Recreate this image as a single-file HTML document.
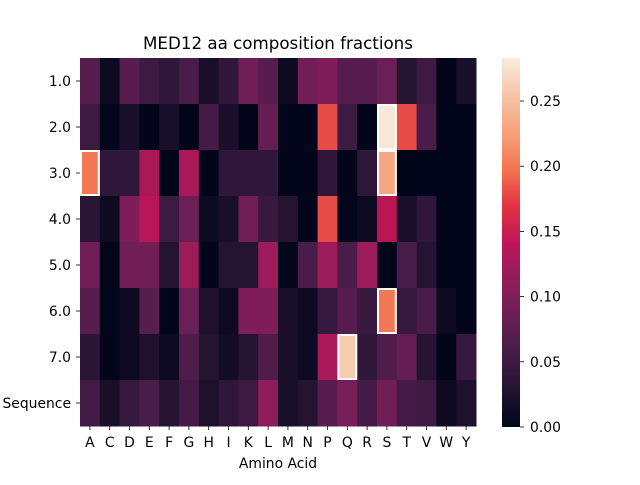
<!DOCTYPE html>
<html><head><meta charset="utf-8"><style>
body{margin:0;background:#fff;font-family:"Liberation Sans","DejaVu Sans",sans-serif;}
svg text{font-family:"DejaVu Sans","Liberation Sans",sans-serif;}
</style></head><body>
<svg id="chart" width="640" height="480" viewBox="0 0 640 480" xmlns="http://www.w3.org/2000/svg">
<rect width="640" height="480" fill="#fff"/>
<text x="278" y="49" font-size="16.7" text-anchor="middle">MED12 aa composition fractions</text>
<g id="cells"></g>
<g id="axes"></g>
<text x="278" y="468" font-size="13.9" text-anchor="middle">Amino Acid</text>
<defs><linearGradient id="cbg" x1="0" y1="1" x2="0" y2="0"></linearGradient></defs>
<rect x="502" y="58" width="18" height="369" fill="url(#cbg)"/>
<g id="cbticks"></g>
</svg>
<script>
const columns=["A","C","D","E","F","G","H","I","K","L","M","N","P","Q","R","S","T","V","W","Y"];
const rowLabels=["1.0","2.0","3.0","4.0","5.0","6.0","7.0","Sequence"];
const row1=[0.07,0.01,0.07,0.05,0.04,0.06,0.02,0.04,0.09,0.07,0.01,0.09,0.10,0.07,0.07,0.085,0.03,0.05,0.0,0.02];
const row2=[0.05,0.0,0.02,0.0,0.02,0.0,0.055,0.02,0.0,0.08,0.0,0.0,0.18,0.05,0.0,0.28,0.18,0.06,0.0,0.0];
const row3=[0.20,0.04,0.04,0.13,0.0,0.13,0.0,0.04,0.04,0.04,0.0,0.0,0.04,0.0,0.04,0.23,0.0,0.0,0.0,0.0];
const row4=[0.035,0.01,0.10,0.14,0.05,0.085,0.01,0.02,0.09,0.045,0.03,0.0,0.18,0.0,0.01,0.14,0.02,0.04,0.0,0.0];
const row5=[0.09,0.0,0.09,0.09,0.03,0.12,0.0,0.03,0.03,0.12,0.0,0.06,0.12,0.06,0.12,0.0,0.06,0.03,0.0,0.0];
const row6=[0.07,0.0,0.01,0.07,0.0,0.085,0.025,0.01,0.10,0.10,0.02,0.01,0.045,0.07,0.045,0.20,0.045,0.06,0.01,0.0];
const row7=[0.035,0.0,0.01,0.025,0.01,0.065,0.03,0.015,0.03,0.065,0.02,0.01,0.13,0.26,0.04,0.065,0.08,0.03,0.0,0.045];
const rowSeq=[0.055,0.02,0.045,0.06,0.03,0.055,0.025,0.04,0.05,0.11,0.02,0.03,0.07,0.095,0.055,0.09,0.055,0.05,0.01,0.025];
const values=[row1,row2,row3,row4,row5,row6,row7,rowSeq];
const highlighted=[[1,15],[2,0],[2,15],[5,15],[6,13]];
const cbTicks=[0,0.05,0.10,0.15,0.20,0.25];
const vmin=0,vmax=0.283;
const X0=80,X1=476,Y0=58,Y1=426;
const cw=(X1-X0)/columns.length, rh=(Y1-Y0)/rowLabels.length;
const stops=[[0,"#03051a"],[0.1,"#221331"],[0.2,"#451c47"],[0.3,"#6a1f56"],[0.4,"#921c5b"],[0.5,"#bc1656"],[0.6,"#e13342"],[0.7,"#f37651"],[0.8,"#f6a27b"],[0.9,"#f6c6a8"],[1,"#faebdd"]];
function hx(c){return [1,3,5].map(i=>parseInt(c.substr(i,2),16));}
function cmap(v){let t=Math.max(0,Math.min(1,(v-vmin)/(vmax-vmin)));
for(let i=1;i<stops.length;i++){if(t<=stops[i][0]){const a=hx(stops[i-1][1]),b=hx(stops[i][1]);const f=(t-stops[i-1][0])/(stops[i][0]-stops[i-1][0]);return "rgb("+a.map((x,k)=>Math.round(x+(b[k]-x)*f)).join(",")+")";}}return stops[stops.length-1][1];}
const NS="http://www.w3.org/2000/svg";
function mk(t,a,p){const e=document.createElementNS(NS,t);for(const k in a)e.setAttribute(k,a[k]);p.appendChild(e);return e;}
const cells=document.getElementById("cells");
values.forEach((r,i)=>r.forEach((v,j)=>{
 const e=mk("rect",{x:X0+j*cw,y:Y0+i*rh,width:cw+0.5,height:rh+0.5,fill:cmap(v)},cells);
 
 
}));
highlighted.forEach(([i,j])=>{
 const e=mk("rect",{x:X0+j*cw+1,y:Y0+i*rh+1,width:cw-2,height:rh-2,fill:"none",stroke:"#fff","stroke-width":2},cells);
 
 
});
const ax=document.getElementById("axes");
columns.forEach((c,j)=>{const x=X0+(j+0.5)*cw;
 mk("line",{x1:x,x2:x,y1:Y1,y2:Y1+4,stroke:"#000","stroke-width":0.8},ax);
 const t=mk("text",{x:x,y:Y1+21,"font-size":13.9,"text-anchor":"middle"},ax);t.textContent=c;
 
 
});
rowLabels.forEach((l,i)=>{const y=Y0+(i+0.5)*rh;
 mk("line",{x1:X0-4,x2:X0,y1:y,y2:y,stroke:"#000","stroke-width":0.8},ax);
 const t=mk("text",{x:X0-9,y:y+5,"font-size":13.9,"text-anchor":"end"},ax);t.textContent=l;
 
 
});
const g=document.getElementById("cbg");
for(let k=0;k<=20;k++){mk("stop",{offset:k/20,"stop-color":cmap(vmin+(vmax-vmin)*k/20)},g);}
const cb=document.getElementById("cbticks");
cbTicks.forEach(v=>{const y=427-(v-vmin)/(vmax-vmin)*369;
 mk("line",{x1:520,x2:524,y1:y,y2:y,stroke:"#000","stroke-width":0.8},cb);
 const t=mk("text",{x:530,y:y+5,"font-size":13.9},cb);t.textContent=v.toFixed(2);
 
 
});
</script>
</body></html>
